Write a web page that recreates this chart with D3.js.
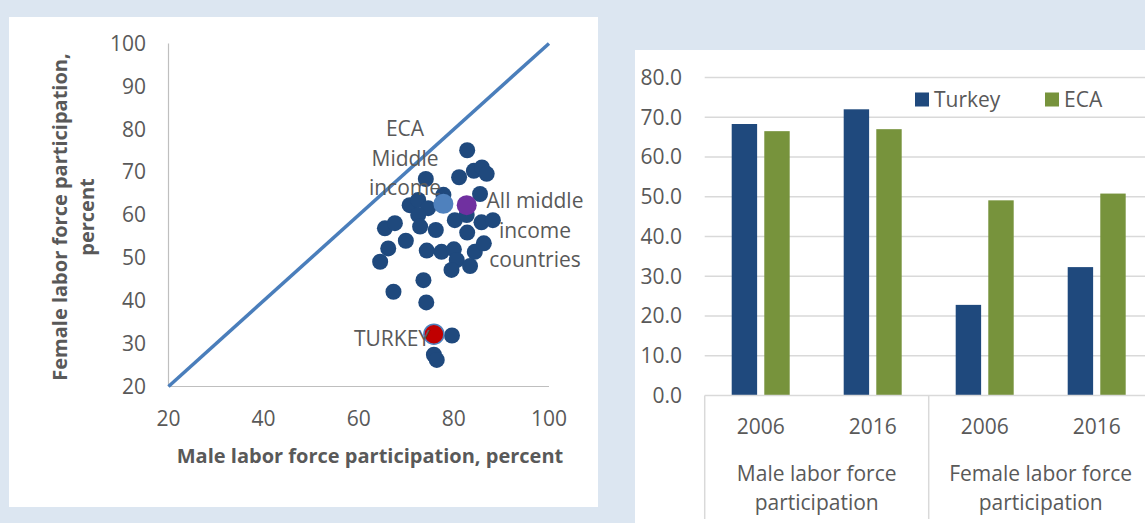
<!DOCTYPE html>
<html>
<head>
<meta charset="utf-8">
<script src="https://cdn.jsdelivr.net/npm/d3@7"></script>
<style>
  body { margin: 0; background: #dce6f1; }
  text { font-family: "Open Sans", sans-serif; fill: #595959; }
</style>
</head>
<body>
<div class="chart"></div>
<script>
// Scatter: male vs female labor force participation (countries)
var maleLfp = [82.8, 81.1, 84.2, 85.9, 86.9, 74.1, 77.8, 85.5, 70.7, 72.5, 74.6, 72.5,
  80.2, 82.7, 85.8, 88.2, 72.9, 76.2, 82.8, 65.5, 67.6, 69.9, 66.2, 64.5, 74.3, 77.4,
  80.0, 80.6, 79.5, 83.4, 84.4, 86.3, 73.6, 67.3, 74.2, 79.6, 75.8, 76.4];
var femaleLfp = [75.1, 68.8, 70.3, 71.1, 69.6, 68.4, 64.7, 64.9, 62.3, 63.5, 61.6, 60.0,
  58.8, 60.0, 58.3, 58.8, 57.3, 56.5, 55.9, 56.9, 58.1, 54.0, 52.2, 49.1, 51.7, 51.4,
  52.0, 49.5, 47.2, 48.1, 51.4, 53.4, 44.8, 42.1, 39.6, 31.9, 27.4, 26.2];

// Highlighted points
var highlightNames = ["ECA Middle income", "All middle income countries", "TURKEY"];
var highlightMale = [77.8, 82.7, 75.8];
var highlightFemale = [62.6, 62.3, 32.2];
var highlightColors = ["#4f81bd", "#7030a0", "#c00000"];

var scatterTicksX = [20, 40, 60, 80, 100];
var scatterTicksY = [20, 30, 40, 50, 60, 70, 80, 90, 100];

// Bar chart
var barGroups = ["Male labor force participation", "Female labor force participation"];
var barYears = ["2006", "2016"];
var barSeries = ["Turkey", "ECA"];
var turkeyValues = [68.3, 72.0, 22.8, 32.3];
var ecaValues = [66.5, 67.0, 49.1, 50.8];
var barTicks = [0, 10, 20, 30, 40, 50, 60, 70, 80];

var barColors = { Turkey: "#1f497d", ECA: "#77933c" };

var svg = d3.select(".chart")
    .append("svg")
    .attr("width", 1145)
    .attr("height", 523);

svg.append("rect").attr("width", 1145).attr("height", 523).attr("fill", "#dce6f1");

// white panels
svg.append("rect").attr("x", 9).attr("y", 17).attr("width", 589).attr("height", 490).attr("fill", "#fff");
svg.append("rect").attr("x", 635).attr("y", 50).attr("width", 510).attr("height", 473).attr("fill", "#fff");

// ---------- Scatter plot ----------
var xScale = d3.scaleLinear().domain([20, 100]).range([168.5, 549]);
var yScale = d3.scaleLinear().domain([20, 100]).range([386.5, 43.5]);

var scatter = svg.append("g");

scatter.append("line")
    .attr("x1", xScale(20)).attr("x2", xScale(20))
    .attr("y1", yScale(20)).attr("y2", yScale(100))
    .attr("stroke", "#bfbfbf").attr("stroke-width", 1.2);
scatter.append("line")
    .attr("x1", xScale(20)).attr("x2", xScale(100))
    .attr("y1", yScale(20)).attr("y2", yScale(20))
    .attr("stroke", "#bfbfbf").attr("stroke-width", 1.2);

scatter.selectAll(".ytick")
    .data(scatterTicksY)
    .enter()
    .append("text")
    .attr("class", "ytick")
    .attr("x", 146)
    .attr("y", function(d) { return yScale(d); })
    .attr("dy", "0.35em")
    .attr("text-anchor", "end")
    .style("font-size", "21px")
    .text(function(d) { return d; });

scatter.selectAll(".xtick")
    .data(scatterTicksX)
    .enter()
    .append("text")
    .attr("class", "xtick")
    .attr("x", function(d) { return xScale(d); })
    .attr("y", 419)
    .attr("dy", "0.35em")
    .attr("text-anchor", "middle")
    .style("font-size", "21px")
    .text(function(d) { return d; });

// 45 degree line
var diag = [20, 100];
scatter.append("path")
    .datum(diag)
    .attr("d", d3.line().x(function(d) { return xScale(d); }).y(function(d) { return yScale(d); }))
    .attr("stroke", "#4a7ebb")
    .attr("stroke-width", 3.5)
    .attr("fill", "none");

var points = maleLfp.map(function(m, i) { return { x: m, y: femaleLfp[i] }; });

scatter.selectAll(".dot")
    .data(points)
    .enter()
    .append("circle")
    .attr("class", "dot")
    .attr("cx", function(d) { return xScale(d.x); })
    .attr("cy", function(d) { return yScale(d.y); })
    .attr("r", 8)
    .attr("fill", "#1f497d");

var highlights = highlightNames.map(function(n, i) {
    return { name: n, x: highlightMale[i], y: highlightFemale[i], color: highlightColors[i] };
});

scatter.selectAll(".hl")
    .data(highlights)
    .enter()
    .append("circle")
    .attr("class", "hl")
    .attr("cx", function(d) { return xScale(d.x); })
    .attr("cy", function(d) { return yScale(d.y); })
    .attr("r", 10)
    .attr("fill", function(d) { return d.color; })
    .attr("stroke", function(d) { return d.name === "TURKEY" ? "#4f81bd" : "none"; })
    .attr("stroke-width", 1.5);

// annotations
function multiLine(g, lines, x, y, anchor, lh) {
    var t = g.append("text")
        .attr("x", x).attr("y", y)
        .attr("text-anchor", anchor)
        .style("font-size", "21px");
    lines.forEach(function(l, i) {
        t.append("tspan").attr("x", x).attr("dy", i === 0 ? 0 : lh).text(l);
    });
}
multiLine(scatter, ["ECA", "Middle", "income"], 405, 136, "middle", 29.5);
multiLine(scatter, ["All middle", "income", "countries"], 535, 208, "middle", 29.5);
multiLine(scatter, ["TURKEY"], 392, 346, "middle", 29);

// axis titles
scatter.append("text")
    .attr("x", 370)
    .attr("y", 463)
    .attr("text-anchor", "middle")
    .style("font-size", "20px")
    .style("font-weight", "bold")
    .text("Male labor force participation, percent");

var yTitle = scatter.append("text")
    .attr("transform", "translate(67," + 217 + ") rotate(-90)")
    .attr("text-anchor", "middle")
    .style("font-size", "20px")
    .style("font-weight", "bold");
yTitle.append("tspan").attr("x", 0).attr("dy", 0).text("Female labor force participation,");
yTitle.append("tspan").attr("x", 0).attr("dy", 27).text("percent");

// ---------- Bar chart ----------
var barData = [];
barGroups.forEach(function(g, gi) {
    barYears.forEach(function(y, yi) {
        var idx = gi * 2 + yi;
        barData.push({ key: g + " " + y, group: g, year: y, Turkey: turkeyValues[idx], ECA: ecaValues[idx] });
    });
});

var x0 = d3.scaleBand()
    .domain(barData.map(function(d) { return d.key; }))
    .range([704.7, 1152.7]);
var x1 = d3.scaleBand()
    .domain(barSeries)
    .range([27, 85])
    .paddingInner(0.22);
var yBar = d3.scaleLinear().domain([0, 80]).range([395.5, 77.5]);

var bars = svg.append("g");

bars.selectAll(".grid")
    .data(barTicks.slice(1))
    .enter()
    .append("line")
    .attr("class", "grid")
    .attr("x1", 704.7).attr("x2", 1145)
    .attr("y1", function(d) { return yBar(d); })
    .attr("y2", function(d) { return yBar(d); })
    .attr("stroke", "#d9d9d9")
    .attr("stroke-width", 1.5);

bars.selectAll(".btick")
    .data(barTicks)
    .enter()
    .append("text")
    .attr("class", "btick")
    .attr("x", 682)
    .attr("y", function(d) { return yBar(d); })
    .attr("dy", "0.35em")
    .attr("text-anchor", "end")
    .style("font-size", "21px")
    .text(function(d) { return d.toFixed(1); });

var groupsG = bars.selectAll(".cat")
    .data(barData)
    .enter()
    .append("g")
    .attr("class", "cat")
    .attr("transform", function(d) { return "translate(" + x0(d.key) + ",0)"; });

groupsG.selectAll("rect")
    .data(function(d) { return barSeries.map(function(s) { return { series: s, value: d[s] }; }); })
    .enter()
    .append("rect")
    .attr("x", function(d) { return x1(d.series); })
    .attr("width", x1.bandwidth())
    .attr("y", function(d) { return yBar(d.value); })
    .attr("height", function(d) { return yBar(0) - yBar(d.value); })
    .attr("fill", function(d) { return barColors[d.series]; });

// baseline and category separators
bars.append("line")
    .attr("x1", 704.7).attr("x2", 1145)
    .attr("y1", yBar(0)).attr("y2", yBar(0))
    .attr("stroke", "#d9d9d9").attr("stroke-width", 1.5);

var sepX = [704.7, x0(barData[2].key), 1152.7];
bars.selectAll(".sep")
    .data(sepX)
    .enter()
    .append("line")
    .attr("class", "sep")
    .attr("x1", function(d) { return d; }).attr("x2", function(d) { return d; })
    .attr("y1", yBar(0)).attr("y2", 519)
    .attr("stroke", "#d9d9d9").attr("stroke-width", 1.5);

groupsG.append("text")
    .attr("x", x0.bandwidth() / 2)
    .attr("y", 427)
    .attr("dy", "0.35em")
    .attr("text-anchor", "middle")
    .style("font-size", "21px")
    .text(function(d) { return d.year; });

var groupLabels = bars.selectAll(".glabel")
    .data(barGroups)
    .enter()
    .append("text")
    .attr("class", "glabel")
    .attr("text-anchor", "middle")
    .style("font-size", "21px");
groupLabels.each(function(g, i) {
    var cx = x0(barData[i * 2].key) + x0.bandwidth();
    var words = g.split(" ");
    var t = d3.select(this);
    t.append("tspan").attr("x", cx).attr("y", 481).text(words.slice(0, 3).join(" "));
    t.append("tspan").attr("x", cx).attr("y", 510).text(words.slice(3).join(" "));
});

// legend
var legendX = [915, 1045];
var legend = bars.selectAll(".legend")
    .data(barSeries)
    .enter()
    .append("g")
    .attr("class", "legend")
    .attr("transform", function(d, i) { return "translate(" + legendX[i] + ",92.5)"; });
legend.append("rect")
    .attr("width", 14).attr("height", 14)
    .attr("fill", function(d) { return barColors[d]; });
legend.append("text")
    .attr("x", 19).attr("y", 7)
    .attr("dy", "0.35em")
    .style("font-size", "21px")
    .text(function(d) { return d; });
</script>
</body>
</html>
